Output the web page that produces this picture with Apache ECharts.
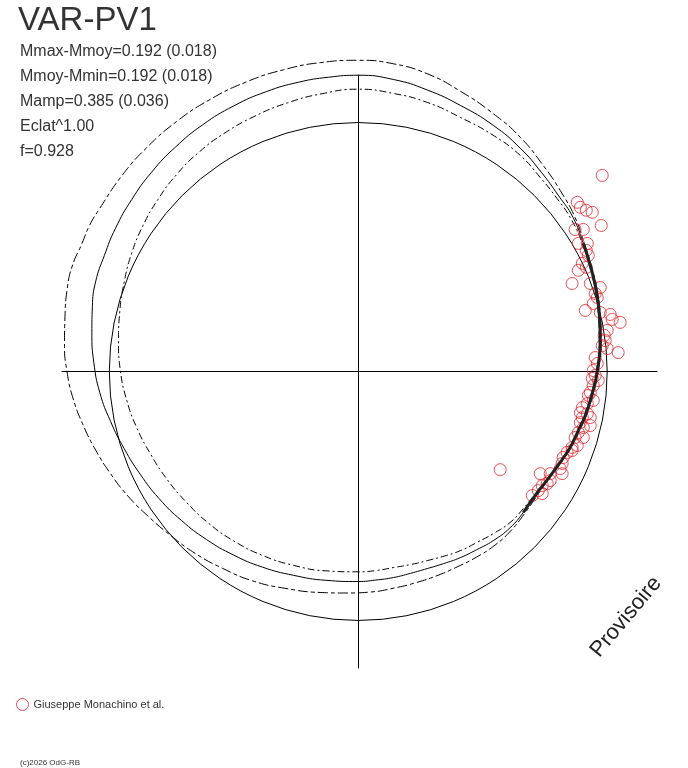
<!DOCTYPE html>
<html>
<head>
<meta charset="utf-8">
<title>VAR-PV1</title>
<script src="https://cdn.jsdelivr.net/npm/echarts@6/dist/echarts.min.js"></script>
<style>
    html, body {margin: 0; padding: 0; background: #fff;}
    #chart {width: 688px; height: 768px;}
</style>
</head>
<body>
<div id="chart"></div>
<script>
// polar phase diagram, unit = radius of the reference circle
var refCircle = [[0, 0, 1]];

// model light curves (x, y), closed loops starting at the top
var modelA = [[0, 1.249], [0.141, 1.235], [0.277, 1.195], [0.410, 1.125], [0.542, 1.035], [0.651, 0.940],
    [0.743, 0.827], [0.811, 0.727], [0.871, 0.618], [0.908, 0.514], [0.936, 0.426], [0.960, 0.325],
    [0.972, 0.233], [0.976, 0.124], [0.964, 0], [0.944, -0.088], [0.916, -0.177], [0.888, -0.237],
    [0.855, -0.305], [0.815, -0.365], [0.770, -0.425], [0.724, -0.490], [0.668, -0.570], [0.612, -0.640],
    [0.545, -0.700], [0.475, -0.745], [0.400, -0.783], [0.320, -0.818], [0.230, -0.848], [0.140, -0.870],
    [0.050, -0.885], [-0.050, -0.889], [-0.150, -0.887], [-0.295, -0.870], [-0.425, -0.840], [-0.545, -0.790],
    [-0.655, -0.730], [-0.755, -0.657], [-0.845, -0.580], [-0.925, -0.500], [-0.995, -0.410], [-1.055, -0.315],
    [-1.105, -0.215], [-1.145, -0.110], [-1.170, 0.000], [-1.180, 0.110], [-1.178, 0.220], [-1.170, 0.325],
    [-1.150, 0.420], [-1.110, 0.513], [-1.080, 0.585], [-1.040, 0.652], [-0.950, 0.785], [-0.850, 0.898],
    [-0.730, 1.003], [-0.600, 1.089], [-0.450, 1.162], [-0.300, 1.211], [-0.150, 1.240], [0, 1.249]];

var modelB = [[0, 1.189], [0.141, 1.172], [0.277, 1.130], [0.410, 1.068], [0.542, 0.988], [0.651, 0.896],
    [0.735, 0.800], [0.805, 0.705], [0.863, 0.618], [0.904, 0.514], [0.932, 0.426], [0.956, 0.325],
    [0.968, 0.233], [0.972, 0.124], [0.960, 0], [0.940, -0.088], [0.912, -0.177], [0.884, -0.237],
    [0.851, -0.305], [0.811, -0.365], [0.763, -0.430], [0.719, -0.486], [0.663, -0.566], [0.610, -0.627],
    [0.542, -0.679], [0.476, -0.715], [0.410, -0.747], [0.343, -0.771], [0.277, -0.791], [0.210, -0.810],
    [0.141, -0.827], [0.070, -0.837], [0, -0.843], [-0.130, -0.838], [-0.260, -0.818], [-0.385, -0.785],
    [-0.500, -0.737], [-0.610, -0.674], [-0.710, -0.598], [-0.800, -0.510], [-0.876, -0.412], [-0.940, -0.310],
    [-0.995, -0.200], [-1.038, -0.085], [-1.062, 0.035], [-1.070, 0.155], [-1.068, 0.260], [-1.055, 0.360],
    [-1.020, 0.465], [-0.975, 0.575], [-0.910, 0.690], [-0.830, 0.800], [-0.735, 0.900], [-0.625, 0.990],
    [-0.500, 1.066], [-0.370, 1.123], [-0.240, 1.161], [-0.120, 1.181], [0, 1.189]];

var modelC = [[0, 1.133], [0.141, 1.116], [0.277, 1.080], [0.410, 1.020], [0.542, 0.948], [0.651, 0.867],
    [0.730, 0.780], [0.798, 0.695], [0.855, 0.612], [0.900, 0.514], [0.928, 0.426], [0.952, 0.325],
    [0.964, 0.233], [0.968, 0.124], [0.956, 0], [0.936, -0.088], [0.908, -0.177], [0.880, -0.237],
    [0.847, -0.305], [0.807, -0.365], [0.759, -0.430], [0.715, -0.486], [0.663, -0.550], [0.610, -0.606],
    [0.542, -0.651], [0.475, -0.687], [0.410, -0.719], [0.345, -0.741], [0.277, -0.759], [0.210, -0.775],
    [0.141, -0.787], [0.070, -0.799], [0, -0.804], [-0.130, -0.800], [-0.260, -0.778], [-0.385, -0.738],
    [-0.500, -0.680], [-0.600, -0.610], [-0.690, -0.525], [-0.770, -0.430], [-0.835, -0.330], [-0.890, -0.225],
    [-0.930, -0.115], [-0.955, 0.000], [-0.963, 0.120], [-0.958, 0.240], [-0.940, 0.360], [-0.910, 0.475],
    [-0.865, 0.585], [-0.805, 0.690], [-0.730, 0.790], [-0.640, 0.880], [-0.535, 0.958], [-0.415, 1.025],
    [-0.285, 1.078], [-0.145, 1.115], [0, 1.133]];

// part of modelB covered by the observations (drawn thick)
var coverFrom = 9, coverTo = 23;
// loops are redrawn starting here so the seam hides under the thick part
var seam = 15;

var observations = [[0.980, 0.787], [0.880, 0.679], [0.892, 0.659], [0.916, 0.647], [0.940, 0.639],
    [0.976, 0.586], [0.871, 0.570], [0.904, 0.570], [0.884, 0.514], [0.920, 0.514], [0.916, 0.486],
    [0.924, 0.466], [0.900, 0.434], [0.884, 0.406], [0.916, 0.418], [0.859, 0.353], [0.932, 0.353],
    [0.972, 0.337], [0.952, 0.313], [0.960, 0.297], [0.944, 0.273], [0.912, 0.245], [0.972, 0.237],
    [1.012, 0.229], [1.020, 0.209], [1.052, 0.197], [1.000, 0.165], [0.988, 0.145], [0.992, 0.124],
    [0.980, 0.104], [1.044, 0.076], [1.000, 0.092], [0.952, 0.056], [0.960, 0.032], [0.944, 0.004],
    [0.952, -0.016], [0.940, -0.028], [0.964, -0.036], [0.944, -0.056], [0.932, -0.084], [0.924, -0.096],
    [0.944, -0.116], [0.920, -0.129], [0.900, -0.145], [0.892, -0.165], [0.920, -0.169], [0.900, -0.185],
    [0.932, -0.185], [0.892, -0.205], [0.932, -0.217], [0.904, -0.225], [0.884, -0.245], [0.871, -0.265],
    [0.904, -0.265], [0.880, -0.297], [0.859, -0.305], [0.839, -0.325], [0.859, -0.317], [0.823, -0.345],
    [0.819, -0.369], [0.811, -0.390], [0.819, -0.410], [0.771, -0.410], [0.731, -0.410], [0.771, -0.438],
    [0.739, -0.458], [0.759, -0.450], [0.723, -0.478], [0.699, -0.498], [0.739, -0.490], [0.570, -0.394]];

var starName = 'VAR-PV1';
var infoLines = ['Mmax-Mmoy=0.192 (0.018)', 'Mmoy-Mmin=0.192 (0.018)', 'Mamp=0.385 (0.036)', 'Eclat^1.00', 'f=0.928'];
var observer = 'Giuseppe Monachino et al.';
var copyright = '(c)2026 OdG-RB';
var stamp = 'Provisoire';

var font = '"Liberation Sans", Arial, sans-serif';
var red = '#e3232c';

var dom = document.getElementById('chart');
var chart = echarts.init(dom);

function reloop(data, k) {
    // first and last points are the same, restart the loop at index k
    return data.slice(k).concat(data.slice(1, k + 1));
}

var texts = [{
    type: 'text', x: 18, y: 21,
    style: {text: starName, font: '33px ' + font, fill: '#333', verticalAlign: 'middle'}
}];
infoLines.forEach(function (t, i) {
    texts.push({
        type: 'text', x: 20, y: 52 + i * 25,
        style: {text: t, font: '16px ' + font, fill: '#333', verticalAlign: 'middle'}
    });
});
texts.push({
    type: 'text', x: 20, y: 763,
    style: {text: copyright, font: '8px ' + font, fill: '#333', verticalAlign: 'middle'}
});
texts.push({
    type: 'text', x: 626, y: 617, rotation: 50 * Math.PI / 180,
    style: {text: stamp, font: '22px ' + font, fill: '#222', align: 'center', verticalAlign: 'middle'}
});

function hiddenAxis(min, max) {
    return {
        type: 'value', min: min, max: max,
        axisLine: {show: true, onZero: true, lineStyle: {color: '#000', width: 1}},
        axisTick: {show: false},
        axisLabel: {show: false},
        splitLine: {show: false}
    };
}

function curve(name, data, dash) {
    return {
        name: name, type: 'line', data: reloop(data, seam), smooth: 0.5, symbol: 'none', silent: true,
        clip: false, z: 2,
        lineStyle: {color: '#000', width: 1, type: dash}
    };
}

var option = {
    animation: false,
    backgroundColor: '#fff',
    grid: {left: 62, top: 75, width: 595, height: 593},
    xAxis: hiddenAxis(-1.19, 1.2),
    yAxis: hiddenAxis(-1.19, 1.19),
    legend: {
        left: 16, top: 698, padding: 0, icon: 'circle', itemWidth: 12, itemHeight: 12,
        data: [observer],
        itemStyle: {borderWidth: 1},
        textStyle: {fontSize: 11, color: '#333', fontFamily: font}
    },
    graphic: texts,
    series: [{
        name: 'reference',
        type: 'custom',
        data: refCircle,
        silent: true,
        z: 2,
        renderItem: function (params, api) {
            var c = api.coord([api.value(0), api.value(1)]);
            var s = api.size([api.value(2), api.value(2)]);
            return {
                type: 'circle',
                shape: {cx: c[0], cy: c[1], r: s[0]},
                style: {fill: 'none', stroke: '#000', lineWidth: 1}
            };
        }
    },
        curve('modelA', modelA, [10, 3, 4, 3]),
        curve('modelB', modelB, 'solid'),
        curve('modelC', modelC, [7, 3, 2, 3]),
        {
            name: observer,
            type: 'scatter',
            data: observations,
            symbol: 'circle',
            symbolSize: 12,
            z: 3,
            itemStyle: {color: 'rgba(0,0,0,0)', borderColor: red, borderWidth: 1}
        },
        {
            name: 'cover',
            type: 'line',
            data: modelB.slice(coverFrom, coverTo),
            smooth: 0.5, symbol: 'none', silent: true, z: 4,
            lineStyle: {color: '#222', width: 3}
        }]
};

chart.setOption(option);
</script>
</body>
</html>
